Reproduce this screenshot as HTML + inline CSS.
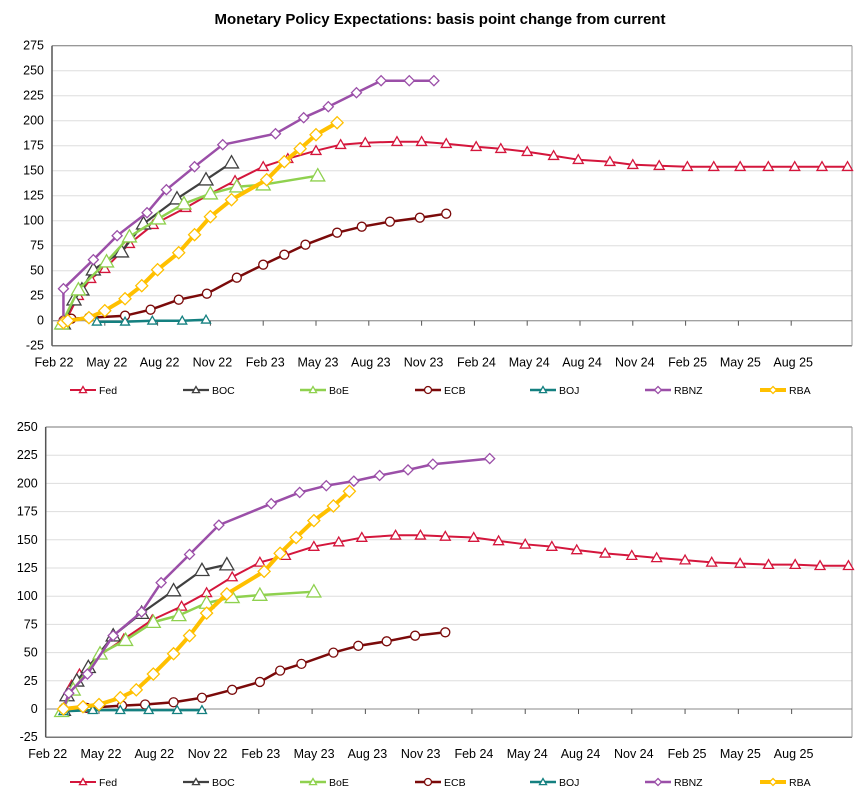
<!DOCTYPE html>
<html><head><meta charset="utf-8"><style>
body{margin:0;background:#fff;font-family:"Liberation Sans",sans-serif;}
svg text{font-family:"Liberation Sans",sans-serif;}
</style></head><body>
<svg id="svg" width="865" height="796">
<text x="440" y="24" text-anchor="middle" font-size="15" font-weight="bold">Monetary Policy Expectations: basis point change from current</text>
</svg>
<script>
const xTickLabels=["Feb 22","May 22","Aug 22","Nov 22","Feb 23","May 23","Aug 23","Nov 23","Feb 24","May 24","Aug 24","Nov 24","Feb 25","May 25","Aug 25"];
const seriesNames=["Fed","BOC","BoE","ECB","BOJ","RBNZ","RBA"];
// chart 1: months since Feb 22, values in bp
const c1FedM=[0.7,1.5,2.2,3,4.4,5.75,7.6,9,10.4,12,13.4,15,16.4,17.8,19.6,21,22.4,24.1,25.5,27,28.5,29.9,31.7,33,34.5,36.1,37.6,39.1,40.7,42.2,43.75,45.2];
const c1FedV=[-3,25,42,52,77,96,113,127,140,154,162,170,176,178,179,179,177,174,172,169,165,161,159,156,155,154,154,154,154,154,154,154];
const c1BocM=[0.65,1.25,1.7,2.35,3.95,5.2,7.1,8.75,10.2];
const c1BocV=[-3,21,31,51,69,97,122,141,158];
const c1BoeM=[0.55,1.5,3.1,4.4,6.05,7.5,9,10.5,12,15.1];
const c1BoeV=[-3,31,59,84,102,117,127,134,136,145];
const c1EcbM=[0.65,1.1,2.1,4.15,5.6,7.2,8.8,10.5,12,13.2,14.4,16.2,17.6,19.2,20.9,22.4];
const c1EcbV=[0,2,3,5,11,21,27,43,56,66,76,88,94,99,103,107];
const c1BojM=[2.55,4.15,5.7,7.4,8.75];
const c1BojV=[-1,-1,0,0,1];
const c1RbnzM=[0.65,0.65,2.35,3.7,5.4,6.5,8.1,9.7,12.7,14.3,15.7,17.3,18.7,20.3,21.7];
const c1RbnzV=[0,32,61,85,108,131,154,176,187,203,214,228,240,240,240];
const c1RbaM=[0.65,0.9,2.1,3,4.15,5.1,6,7.2,8.1,9,10.2,12.2,13.2,14.1,15,16.2];
const c1RbaV=[-2,0,3,10,22,35,51,68,86,104,121,141,159,172,186,198];
// chart 2
const c2FedM=[1,1.46,1.9,3.06,4.4,6,7.65,9.06,10.5,12.06,13.5,15.1,16.5,17.8,19.7,21.1,22.5,24.1,25.5,27,28.5,29.9,31.5,33,34.4,36,37.5,39.1,40.7,42.2,43.6,45.2];
const c2FedV=[-1,21,31,48,62,79,91,103,117,130,136,144,148,152,154,154,153,152,149,146,144,141,138,136,134,132,130,129,128,128,127,127];
const c2BocM=[1,1.2,1.75,2.4,3.8,5.4,7.2,8.8,10.2];
const c2BocV=[-1,12,25,37,65,85,105,123,128];
const c2BoeM=[0.9,1.55,3.06,4.5,6.06,7.5,9.06,10.5,12.06,15.1];
const c2BoeV=[-2,17,49,61,77,83,94,99,101,104];
const c2EcbM=[1,2.3,4.3,5.6,7.2,8.8,10.5,12.06,13.2,14.4,16.2,17.6,19.2,20.8,22.5];
const c2EcbV=[0,1,3,4,6,10,17,24,34,40,50,56,60,65,68];
const c2BojM=[1,2.65,4.2,5.8,7.4,8.8];
const c2BojV=[-2,-1,-1,-1,-1,-1];
const c2RbnzM=[1,1.3,2.35,3.8,5.4,6.5,8.1,9.75,12.7,14.3,15.8,17.35,18.8,20.4,21.8,25];
const c2RbnzV=[0,14,31,65,86,112,137,163,182,192,198,202,207,212,217,222];
const c2RbaM=[1,2.1,3,4.2,5.1,6.06,7.2,8.1,9.06,10.2,12.3,13.2,14.1,15.1,16.2,17.1];
const c2RbaV=[0,2,4,10,17,31,49,65,85,102,122,138,152,167,180,193];
const c1Ticks=[-25,0,25,50,75,100,125,150,175,200,225,250,275];
const c2Ticks=[-25,0,25,50,75,100,125,150,175,200,225,250];

const NS="http://www.w3.org/2000/svg";
const svg=document.getElementById('svg');
const styles=[
 {c:"#d4163c",w:2,m:"tri",s:5},
 {c:"#404040",w:2.2,m:"tri",s:7},
 {c:"#8fd14f",w:2.5,m:"tri",s:7},
 {c:"#7b0a0a",w:2.5,m:"circ",s:4.5},
 {c:"#148080",w:2.5,m:"tri",s:4.5},
 {c:"#9b4fa8",w:2.5,m:"dia",s:5},
 {c:"#ffc000",w:4,m:"dia",s:6}];
function mk(tag,attrs,parent){const e=document.createElementNS(NS,tag);for(const k in attrs)e.setAttribute(k,attrs[k]);(parent||svg).appendChild(e);return e;}
function marker(g,type,x,y,s,c){
 let e;
 if(type=="tri") e=mk('polygon',{points:`${x},${y-s} ${x-s},${y+s*0.75} ${x+s},${y+s*0.75}`,fill:"#fff",stroke:c,'stroke-width':1.3},g);
 else if(type=="circ") e=mk('circle',{cx:x,cy:y,r:s,fill:"#fff",stroke:c,'stroke-width':1.3},g);
 else e=mk('polygon',{points:`${x},${y-s} ${x+s},${y} ${x},${y+s} ${x-s},${y}`,fill:"#fff",stroke:c,'stroke-width':1.3},g);
 
 
}
function chart(id,cfg,ticks,data){
 const g=mk('g',{});
 
 
 const xs=m=>cfg.x0+m*cfg.mw;
 const ys=v=>cfg.y0-v*cfg.ppu;
 const top=ys(ticks[ticks.length-1]), bot=ys(ticks[0]);
 ticks.forEach(t=>{
  const l=mk('line',{x1:cfg.x0,x2:cfg.xr,y1:ys(t),y2:ys(t),stroke:t==ticks[ticks.length-1]||t==ticks[0]?"#777":"#ddd",'stroke-width':t==ticks[0]?1.5:1},g);
  
  
  const tx=mk('text',{x:cfg.x0-8,y:ys(t)+4,'text-anchor':'end','font-size':12.5},g);tx.textContent=t;
  
  
 });
 const ax=mk('line',{x1:cfg.x0,x2:cfg.x0,y1:top,y2:bot,stroke:"#555",'stroke-width':1.5},g);
 
 
 const rx=mk('line',{x1:cfg.xr,x2:cfg.xr,y1:top,y2:bot,stroke:"#999",'stroke-width':1},g);
 
 
 const z=mk('line',{x1:cfg.x0,x2:cfg.xr,y1:ys(0),y2:ys(0),stroke:"#888",'stroke-width':1},g);
 
 
 xTickLabels.forEach((lab,i)=>{
  const x=xs(i*3);
  mk('line',{x1:x,x2:x,y1:ys(0),y2:ys(0)+5,stroke:"#555"},g);
  const t=mk('text',{x:x+2,y:bot+21,'text-anchor':'middle','font-size':12.5},g);t.textContent=lab;
  
  
 });
 data.forEach((d,i)=>{
  const st=styles[i];
  const pts=d[0].map((m,j)=>xs(m)+","+ys(d[1][j])).join(" ");
  const pl=mk('polyline',{points:pts,fill:"none",stroke:st.c,'stroke-width':st.w,'stroke-linejoin':'round'},g);
  
  
  d[0].forEach((m,j)=>marker(g,st.m,xs(m),ys(d[1][j]),st.s,st.c));
 });
 const lx=[70,183,300,415,530,645,760];
 seriesNames.forEach((n,i)=>{
  const st=styles[i];const x=lx[i],y=cfg.ly;
  const lg=mk('g',{},g);
  
  
  mk('line',{x1:x,x2:x+26,y1:y,y2:y,stroke:st.c,'stroke-width':st.w},lg);
  marker(lg,st.m,x+13,y,3.5,st.c);
  const t=mk('text',{x:x+29,y:y+4,'font-size':10.5},lg);t.textContent=n;
 });
}
chart('chart-top',{x0:52,mw:17.6,xr:852,y0:320.7,ppu:1,ly:390},c1Ticks,
 [[c1FedM,c1FedV],[c1BocM,c1BocV],[c1BoeM,c1BoeV],[c1EcbM,c1EcbV],[c1BojM,c1BojV],[c1RbnzM,c1RbnzV],[c1RbaM,c1RbaV]]);
chart('chart-bottom',{x0:45.7,mw:17.76,xr:852,y0:709,ppu:1.128,ly:782},c2Ticks,
 [[c2FedM,c2FedV],[c2BocM,c2BocV],[c2BoeM,c2BoeV],[c2EcbM,c2EcbV],[c2BojM,c2BojV],[c2RbnzM,c2RbnzV],[c2RbaM,c2RbaV]]);
</script>
</body></html>
